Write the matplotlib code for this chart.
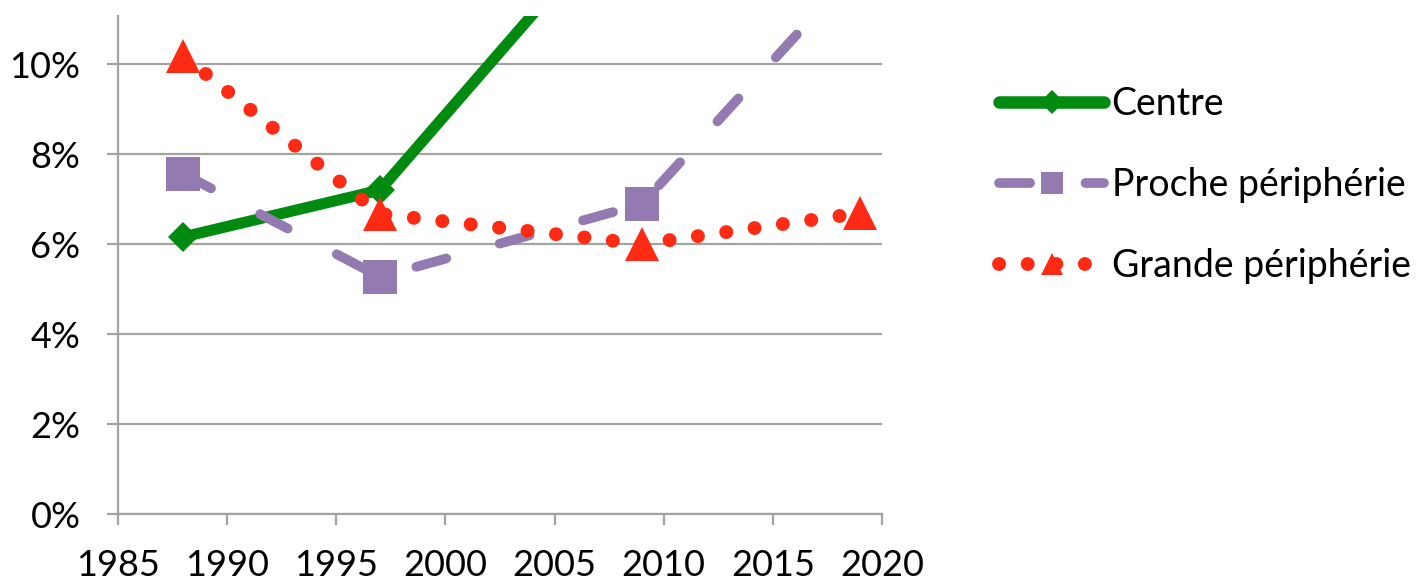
import matplotlib
matplotlib.use("Agg")
import matplotlib.pyplot as plt
from matplotlib.lines import Line2D
from matplotlib.ticker import FixedLocator, FuncFormatter

plt.rcParams["font.family"] = ["Lato", "DejaVu Sans"]

# Share of the population (%), by survey year and zone
years = [1988, 1997, 2009, 2019]
centre = [6.16, 7.20, 13.9, 14.5]
proche = [7.56, 5.27, 6.89, 12.2]
grande = [10.18, 6.67, 6.00, 6.69]
series_labels = ["Centre", "Proche périphérie", "Grande périphérie"]
x_ticks = [1985, 1990, 1995, 2000, 2005, 2010, 2015, 2020]
y_ticks = [0, 2, 4, 6, 8, 10]

GREEN = "#008b10"
PURPLE = "#937bb1"
RED = "#ff2a14"
GREY = "#a3a3a3"

W, H = 1419, 582
fig = plt.figure(figsize=(W / 100, H / 100), dpi=100)
ax = fig.add_axes([118 / W, 1 - 514 / H, (882 - 118) / W, (514 - 16) / H])

ax.plot(years, centre, color=GREEN, lw=8, solid_capstyle="round",
        solid_joinstyle="round", marker="D", ms=15.5, mfc=GREEN, mew=0, zorder=3)
ax.plot(years, proche, color=PURPLE, lw=7, dashes=(3.2, 5.7),
        dash_capstyle="round", marker="s", ms=25, mfc=PURPLE, mew=0, zorder=4)
ax.plot(years, grande, color=RED, lw=10, dashes=(0.01, 2.05),
        dash_capstyle="round", marker="^", ms=25, mfc=RED, mew=0, zorder=5)

ax.set_xlim(1985, 2020)
ax.set_ylim(0, 11.07)
ax.xaxis.set_major_locator(FixedLocator(x_ticks))
ax.yaxis.set_major_locator(FixedLocator(y_ticks))
ax.yaxis.set_major_formatter(FuncFormatter(lambda v, _: f"{v:.0f}%"))

ax.yaxis.grid(True, color=GREY, lw=1.6)
ax.set_axisbelow(True)
for side in ("top", "right"):
    ax.spines[side].set_visible(False)
for side in ("left", "bottom"):
    ax.spines[side].set_color(GREY)
    ax.spines[side].set_linewidth(1.6)

ax.tick_params(axis="both", direction="out", length=8, width=1.6,
               color=GREY, labelsize=26, labelcolor="black")
ax.tick_params(axis="y", pad=19)
ax.tick_params(axis="x", pad=17)

handles = [
    Line2D([], [], color=GREEN, lw=9, solid_capstyle="round",
           marker="D", ms=12, mfc=GREEN, mew=0),
    Line2D([], [], color=PURPLE, lw=7, dashes=(3.2, 5.7), dash_capstyle="round",
           marker="s", ms=16.5, mfc=PURPLE, mew=0),
    Line2D([], [], color=RED, lw=10, dashes=(0.01, 2.05), dash_capstyle="round",
           marker="^", ms=16, mfc=RED, mew=0),
]
fig.legend(handles, series_labels, loc="upper left",
           bbox_to_anchor=(999 / W, 1 - 86 / H), frameon=False, fontsize=27,
           handlelength=2.8, handletextpad=0.2, labelspacing=1.2,
           borderpad=0, borderaxespad=0)

fig.savefig("out.png", dpi=100)
